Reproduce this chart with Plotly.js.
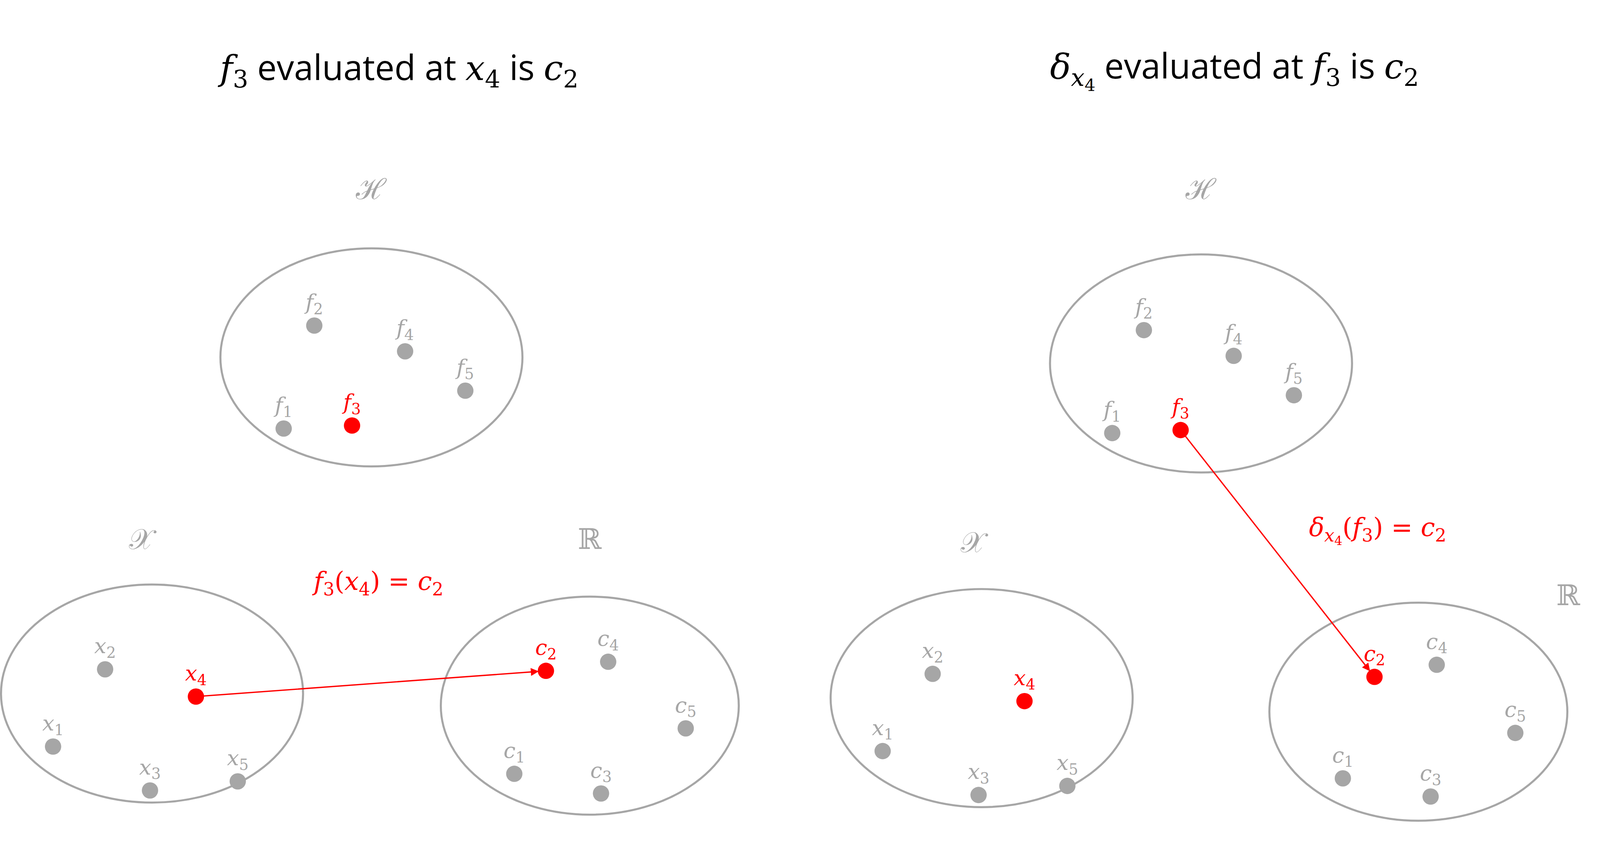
<!DOCTYPE html>
<html><head><meta charset="utf-8">
<script src="https://cdn.plot.ly/plotly-3.0.1.min.js"></script>
<style>html,body{margin:0;padding:0;background:#fff;overflow:hidden}#plot{width:100vw;height:100vh}</style></head>
<body><div id="plot"></div>
<script>
// diagram coordinates in reference units (1568 x 560), y downward
const W = window.innerWidth, H = window.innerHeight;
const S = W / 1568;
const grey = '#a6a6a6', red = '#ff0000';
const v = (s, sub) => '<i>' + s + '</i><sub>' + sub + '</sub>';

// sets: [cx, cy, rx, ry]
const setGeom = [[364,236,148,72],[149,458,148,72],[578,466,146,72],
                 [1177,240,148,72],[962,461,148,72],[1390,470,146,72]];
const setLabel = ['ℋ','𝒳','ℝ','ℋ','𝒳','ℝ'];
const setLabelPos = [[364,125],[140,356],[578,356],[1177,125],[955,358],[1537,393]];

// points
const fX = [278,308,345,397,456], fY = [283,215,281,232,258];
const xX = [52,103,147,192,233], xY = [493,442,522,460,516];
const cX = [504,535,589,596,672], cY = [511,443,524,437,481];
const fX2 = [1090,1121,1157,1209,1268], fY2 = [286,218,284,235,261];
const xX2 = [865,914,959,1004,1046], xY2 = [496,445,525,463,519];
const cX2 = [1316,1347,1402,1408,1485], cY2 = [514,447,526,439,484];
const idx = [1,2,3,4,5];
const redIdx = {f: 2, x: 3, c: 1};

function pts(xs, ys, letter, hi) {
  return {
    x: xs, y: ys, mode: 'markers+text', type: 'scatter', hoverinfo: 'skip',
    text: idx.map(i => v(letter, i)), textposition: 'top center',
    textfont: {family: 'DejaVu Serif', size: 21 * S,
               color: idx.map((i, k) => k === hi ? red : grey)},
    marker: {size: 16 * S, color: idx.map((i, k) => k === hi ? red : grey)},
    cliponaxis: false
  };
}
const data = [
  pts(fX, fY, 'f', redIdx.f), pts(xX, xY, 'x', redIdx.x), pts(cX, cY, 'c', redIdx.c),
  pts(fX2, fY2, 'f', redIdx.f), pts(xX2, xY2, 'x', redIdx.x), pts(cX2, cY2, 'c', redIdx.c)
];

const shapes = setGeom.map(g => ({type: 'circle', xref: 'x', yref: 'y',
  x0: g[0]-g[2], x1: g[0]+g[2], y0: g[1]-g[3], y1: g[1]+g[3],
  line: {color: grey, width: 2 * S}, layer: 'below'}));

const sans = 'Open Sans';
const ann = setLabel.map((t, k) => ({x: setLabelPos[k][0], y: setLabelPos[k][1], text: t,
  showarrow: false, font: {family: 'DejaVu Serif', size: 28 * S, color: grey}}));
// arrows
function arrow(x0, y0, x1, y1) {
  return {x: x1, y: y1, ax: x0, ay: y0, axref: 'x', ayref: 'y', xref: 'x', yref: 'y',
    text: '', showarrow: true, arrowhead: 2, arrowsize: 1.2, arrowwidth: 1.3 * S, arrowcolor: red,
    standoff: 7 * S, startstandoff: 0};
}
ann.push(arrow(xX[3], xY[3], cX[1], cY[1]));
ann.push(arrow(fX2[2], fY2[2], cX2[1], cY2[1]));
ann.push({x: 370, y: 385, showarrow: false,
  text: v('f', 3) + '(' + v('x', 4) + ') = ' + v('c', 2),
  font: {family: 'DejaVu Serif', size: 25 * S, color: red}});
ann.push({x: 1350, y: 350, showarrow: false,
  text: '<i>δ</i><sub><i>x</i><sub>4</sub></sub>(' + v('f', 3) + ') = ' + v('c', 2),
  font: {family: 'DejaVu Serif', size: 25 * S, color: red}});
// titles
const ev = s => '<span style="font-family:' + sans + ';font-style:normal"> ' + s + ' </span>';
ann.push({x: 390, y: 45, showarrow: false,
  text: v('f', 3) + ev('evaluated at') + v('x', 4) + ev('is') + v('c', 2),
  font: {family: 'DejaVu Serif', size: 34 * S, color: '#000'}});
ann.push({x: 1210, y: 45, showarrow: false,
  text: '<i>δ</i><sub><i>x</i><sub>4</sub></sub>' + ev('evaluated at') + v('f', 3) + ev('is') + v('c', 2),
  font: {family: 'DejaVu Serif', size: 34 * S, color: '#000'}});

Plotly.newPlot('plot', data, {
  width: W, height: H, showlegend: false,
  margin: {l: 0, r: 0, t: 0, b: 0},
  paper_bgcolor: '#fff', plot_bgcolor: '#fff',
  xaxis: {range: [0, 1568], visible: false, fixedrange: true},
  yaxis: {range: [560, 0], visible: false, fixedrange: true},
  shapes: shapes, annotations: ann
}, {staticPlot: true});
</script></body></html>
